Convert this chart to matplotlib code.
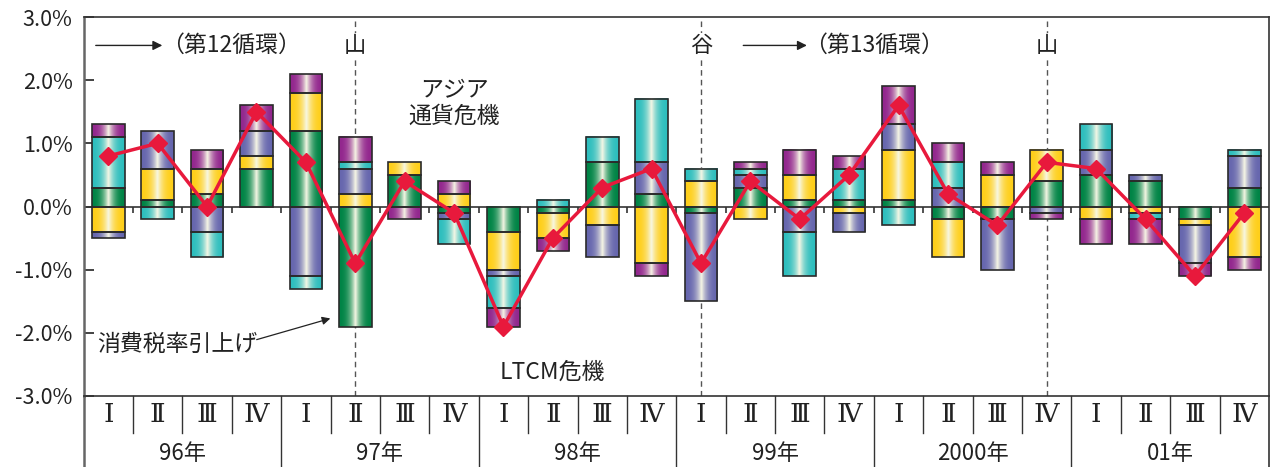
import matplotlib.pyplot as plt
import numpy as np
from matplotlib.colors import to_rgb

plt.rcParams["font.family"] = ["Noto Sans CJK JP", "DejaVu Sans"]

quarters = ["Ⅰ", "Ⅱ", "Ⅲ", "Ⅳ"] * 6
years = ["96年", "97年", "98年", "99年", "2000年", "01年"]

# contributions (% points), stacked in this order
green = [0.3, 0.1, 0.2, 0.6, 1.2, -1.9, 0.5, -0.1, -0.4, -0.1, 0.7, 0.2,
         -0.1, 0.3, 0.1, 0.1, 0.1, -0.2, -0.2, 0.4, 0.5, 0.4, -0.2, 0.3]
yellow = [-0.4, 0.5, 0.4, 0.2, 0.6, 0.2, 0.2, 0.2, -0.6, -0.4, -0.3, -0.9,
          0.4, -0.2, 0.4, -0.1, 0.8, -0.6, 0.5, 0.5, -0.2, -0.1, -0.1, -0.8]
blue = [-0.1, 0.6, -0.4, 0.4, -1.1, 0.4, 0.0, -0.1, -0.1, 0.0, -0.5, 0.5,
        -1.4, 0.2, -0.4, -0.3, 0.4, 0.3, -0.8, -0.1, 0.4, 0.1, -0.6, 0.5]
cyan = [0.8, -0.2, -0.4, 0.0, -0.2, 0.1, 0.0, -0.4, -0.5, 0.1, 0.4, 1.0,
        0.2, 0.1, -0.7, 0.5, -0.3, 0.4, 0.0, 0.0, 0.4, -0.1, 0.0, 0.1]
magenta = [0.2, 0.0, 0.3, 0.4, 0.3, 0.4, -0.2, 0.2, -0.3, -0.2, 0.0, -0.2,
           0.0, 0.1, 0.4, 0.2, 0.6, 0.3, 0.2, -0.1, -0.4, -0.4, -0.2, -0.2]
growth = [0.8, 1.0, 0.0, 1.5, 0.7, -0.9, 0.4, -0.1, -1.9, -0.5, 0.3, 0.6,
          -0.9, 0.4, -0.2, 0.5, 1.6, 0.2, -0.3, 0.7, 0.6, -0.2, -1.1, -0.1]

series = [
    (green, "#008446"),
    (yellow, "#ffcf1a"),
    (blue, "#6666ae"),
    (cyan, "#2ebebe"),
    (magenta, "#93278e"),
]

turning_points = [(5, "山"), (12, "谷"), (19, "山")]


def gradient(color, n=64):
    base = np.array(to_rgb(color))
    hl = np.array([0.97, 0.97, 0.90])
    s = np.linspace(0, 1, n)
    f = (1 - np.abs(2 * s - 1)) ** 2.5
    img = base[None, :] * (1 - f[:, None]) + hl[None, :] * f[:, None]
    return img[None, :, :]


fig = plt.figure(figsize=(12.72, 4.67), dpi=100)
ax = fig.add_axes([83.6 / 1272, 71 / 467, (1269 - 83.6) / 1272, 379 / 467])

x = np.arange(len(growth))
pos = np.zeros(len(x))
neg = np.zeros(len(x))
for vals, col in series:
    v = np.array(vals)
    bottom = np.where(v >= 0, pos, neg)
    bars = ax.bar(x, v, 0.66, bottom=bottom, facecolor="none",
                  edgecolor="#2a2a2a", linewidth=1.2, zorder=4)
    grad = gradient(col)
    for p in bars:
        h = p.get_height()
        if abs(h) < 1e-9:
            p.set_visible(False)
            continue
        x0, y0, w = p.get_x(), p.get_y(), p.get_width()
        ax.imshow(grad, extent=[x0, x0 + w, y0, y0 + h], aspect="auto",
                  origin="lower", interpolation="bilinear", zorder=3)
    pos = pos + np.where(v > 0, v, 0)
    neg = neg + np.where(v < 0, v, 0)

ax.axhline(0, color="#333333", linewidth=1.2, zorder=2)
ax.vlines(x[1:] - 0.5, -0.11, 0, color="#333333", linewidth=1.2, zorder=2)

ax.plot(x, growth, color="#e8193c", linewidth=2.5, marker="D",
        markersize=9, zorder=6)

for i, lab in turning_points:
    ax.axvline(i, color="#555555", linestyle=(0, (4, 3)),
               linewidth=1.0, zorder=1)
    ax.text(i, 2.55, lab, ha="center", va="center", fontsize=16,
            color="#222222", zorder=5,
            bbox=dict(facecolor="white", edgecolor="none", pad=1))

arrow = dict(arrowstyle="-|>", color="#222222", linewidth=1.0,
             mutation_scale=14)
ax.annotate("", xy=(1.15, 2.55), xytext=(-0.31, 2.55), arrowprops=arrow)
ax.text(1.07, 2.55, "（第12循環）", ha="left", va="center", fontsize=16.5,
        color="#222222")
ax.annotate("", xy=(14.2, 2.55), xytext=(12.8, 2.55), arrowprops=arrow)
ax.text(14.08, 2.55, "（第13循環）", ha="left", va="center", fontsize=16.5,
        color="#222222")
ax.text(7.0, 1.63, "アジア\n通貨危機", ha="center", va="center", fontsize=16.5,
        color="#222222", linespacing=1.1)
ax.text(8.98, -2.63, "LTCM危機", ha="center", va="center", fontsize=16.5,
        color="#222222")
ax.text(-0.23, -2.18, "消費税率引上げ", ha="left", va="center", fontsize=16.5,
        color="#222222")
ax.annotate("", xy=(4.55, -1.76), xytext=(2.95, -2.12),
            arrowprops=dict(arrowstyle="-|>", color="#222222",
                            linewidth=0.9, mutation_scale=12))

ax.set_xlim(-0.5, len(x) - 0.5)
ax.set_ylim(-3.0, 3.0)
ax.set_yticks(np.arange(-3, 4, 1))
ax.set_yticklabels([f"{t:.1f}%" for t in np.arange(-3, 4, 1)])
ax.tick_params(axis="y", direction="in", length=7, width=1.2, pad=8,
               labelsize=15.5, colors="#222222")
ax.set_xticks([])
for s in ax.spines.values():
    s.set_color("#333333")
    s.set_linewidth(1.2)
ax.spines["left"].set_linewidth(1.8)
ax.spines["left"].set_color("#666666")

# category table under the plot
tr = ax.get_xaxis_transform()
q_bot, y_bot = -37 / 379, -71 / 379
for k in range(1, len(x)):
    lo = y_bot if k % 4 == 0 else q_bot
    ax.plot([k - 0.5, k - 0.5], [0, lo], transform=tr, color="#333333",
            linewidth=1.0, clip_on=False)
ax.plot([-0.5, -0.5], [0, y_bot], transform=tr, color="#666666",
        linewidth=1.8, clip_on=False)
ax.plot([len(x) - 0.5] * 2, [0, y_bot], transform=tr, color="#333333",
        linewidth=1.2, clip_on=False)
for i, q in enumerate(quarters):
    ax.text(i, -18 / 379, q, transform=tr, ha="center", va="center",
            fontsize=19, color="#222222",
            family=["DejaVu Serif", "Noto Sans CJK JP"])
for j, yr in enumerate(years):
    ax.text(4 * j + 1.5, -58 / 379, yr, transform=tr, ha="center",
            va="center", fontsize=16, color="#222222")

fig.savefig("out.png", dpi=100)
